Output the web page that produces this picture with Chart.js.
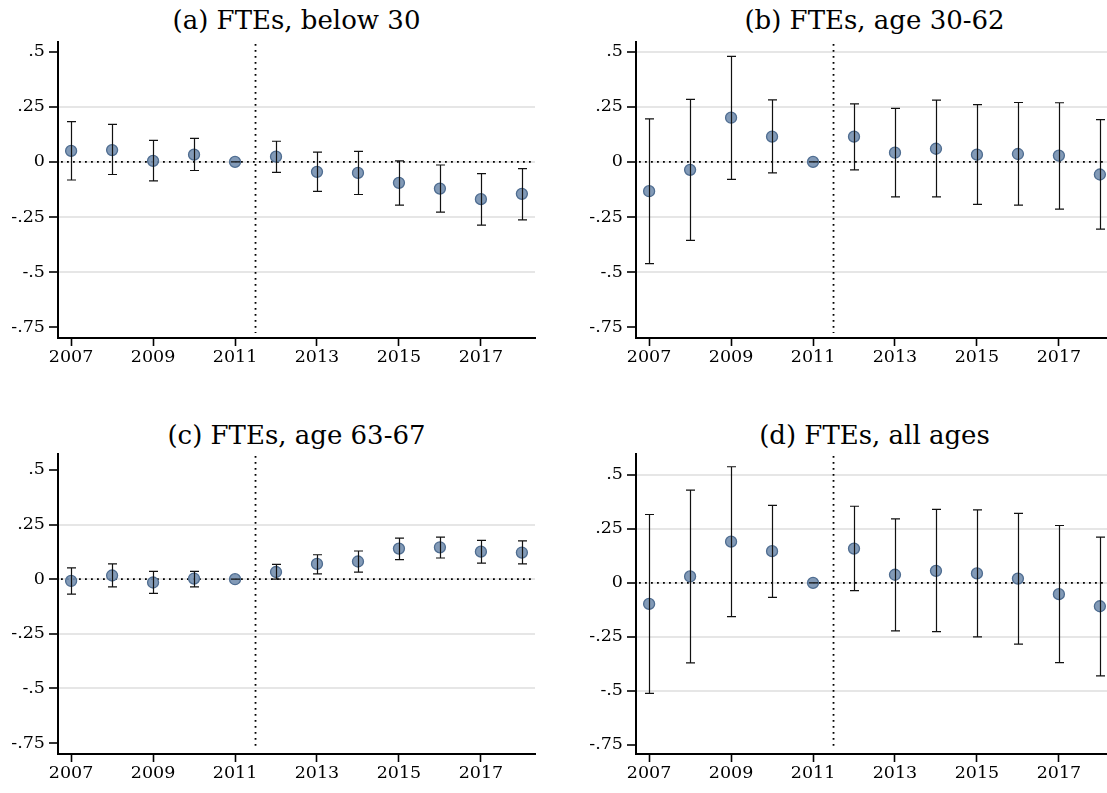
<!DOCTYPE html>
<html>
<head>
<meta charset="utf-8">
<script src="https://cdn.jsdelivr.net/npm/chart.js@4.4.1/dist/chart.umd.min.js"></script>
<style>
  html, body { margin: 0; padding: 0; background: #fff; width: 1107px; height: 793px; overflow: hidden; }
  .panel { position: absolute; }
  .title { position: absolute; width: 477px; text-align: center; font-family: "DejaVu Serif", serif; font-size: 26px; line-height: 30px; color: #000; white-space: nowrap; }
</style>
</head>
<body>
<div class="title" style="left:58px; top:5px;">(a) FTEs, below 30</div>
<div class="title" style="left:636px; top:5px;">(b) FTEs, age 30-62</div>
<div class="title" style="left:58px; top:420px;">(c) FTEs, age 63-67</div>
<div class="title" style="left:636px; top:420px;">(d) FTEs, all ages</div>
<canvas id="chartA" class="panel" width="545" height="400" style="left:0px; top:0px;"></canvas>
<canvas id="chartB" class="panel" width="545" height="400" style="left:578px; top:0px;"></canvas>
<canvas id="chartC" class="panel" width="545" height="381" style="left:0px; top:412px;"></canvas>
<canvas id="chartD" class="panel" width="545" height="381" style="left:578px; top:412px;"></canvas>
<script>
var years = [2007, 2008, 2009, 2010, 2011, 2012, 2013, 2014, 2015, 2016, 2017, 2018];
var xTicks = [2007, 2009, 2011, 2013, 2015, 2017];
var yTicks = [-0.75, -0.5, -0.25, 0, 0.25, 0.5];
var yTickLabels = ['-.75', '-.5', '-.25', '0', '.25', '.5'];
var reformLine = 2011.5;

// (a) below 30
var estA = [0.050, 0.054, 0.005, 0.033, 0, 0.024, -0.045, -0.050, -0.095, -0.121, -0.169, -0.145];
var loA = [-0.082, -0.057, -0.086, -0.039, 0, -0.047, -0.134, -0.148, -0.196, -0.228, -0.287, -0.263];
var hiA = [0.183, 0.171, 0.098, 0.107, 0, 0.094, 0.045, 0.048, 0.005, -0.014, -0.053, -0.030];

// (b) age 30-62
var estB = [-0.133, -0.036, 0.201, 0.115, 0, 0.115, 0.042, 0.060, 0.033, 0.036, 0.029, -0.057];
var loB = [-0.462, -0.356, -0.079, -0.050, 0, -0.036, -0.159, -0.159, -0.193, -0.196, -0.214, -0.305];
var hiB = [0.196, 0.284, 0.480, 0.282, 0, 0.264, 0.243, 0.281, 0.260, 0.270, 0.269, 0.192];

// (c) age 63-67
var estC = [-0.008, 0.017, -0.015, 0.003, 0, 0.033, 0.070, 0.081, 0.140, 0.146, 0.126, 0.122];
var loC = [-0.068, -0.035, -0.065, -0.035, 0, 0.000, 0.024, 0.032, 0.090, 0.097, 0.074, 0.070];
var hiC = [0.052, 0.070, 0.036, 0.036, 0, 0.068, 0.112, 0.129, 0.188, 0.193, 0.178, 0.175];

// (d) all ages
var estD = [-0.097, 0.030, 0.191, 0.147, 0, 0.159, 0.038, 0.056, 0.044, 0.020, -0.052, -0.108];
var loD = [-0.511, -0.370, -0.156, -0.067, 0, -0.036, -0.222, -0.225, -0.250, -0.283, -0.369, -0.430];
var hiD = [0.317, 0.430, 0.538, 0.359, 0, 0.355, 0.297, 0.341, 0.338, 0.322, 0.266, 0.212];

var tickFont = { family: 'DejaVu Serif', size: 17.5 };

function makePanel(id, est, lo, hi, yMin, yMax, gridAtTop, padBottom) {
    var refLines = {
        id: 'refLines',
        beforeDatasetsDraw: function (chart) {
            var ctx = chart.ctx, xs = chart.scales.x, ys = chart.scales.y, area = chart.chartArea;
            ctx.save();
            ctx.strokeStyle = '#000';
            ctx.lineWidth = 1.8;
            ctx.setLineDash([1.8, 4.2]);
            var y0 = ys.getPixelForValue(0);
            ctx.beginPath();
            ctx.moveTo(area.left + 3, y0);
            ctx.lineTo(area.right, y0);
            ctx.stroke();
            var xr = xs.getPixelForValue(reformLine);
            ctx.beginPath();
            ctx.moveTo(xr, area.top + 2);
            ctx.lineTo(xr, area.bottom - 5);
            ctx.stroke();
            ctx.restore();
        },
        afterDatasetsDraw: function (chart) {
            var ctx = chart.ctx, xs = chart.scales.x, ys = chart.scales.y;
            ctx.save();
            ctx.strokeStyle = '#111';
            ctx.lineWidth = 1.2;
            for (var i = 0; i < years.length; i++) {
                var x = Math.round(xs.getPixelForValue(years[i])) + 0.5;
                var yl = ys.getPixelForValue(lo[i]);
                var yh = ys.getPixelForValue(hi[i]);
                ctx.beginPath();
                ctx.moveTo(x, yl);
                ctx.lineTo(x, yh);
                ctx.moveTo(x - 4.5, yl);
                ctx.lineTo(x + 4.5, yl);
                ctx.moveTo(x - 4.5, yh);
                ctx.lineTo(x + 4.5, yh);
                ctx.stroke();
            }
            ctx.restore();
        }
    };

    return new Chart(document.getElementById(id), {
        type: 'scatter',
        data: {
            datasets: [{
                data: years.map(function (yr, i) { return { x: yr, y: est[i] }; }),
                pointRadius: 5.5,
                pointBackgroundColor: 'rgba(116,143,175,0.9)',
                pointBorderColor: '#4f6d91',
                pointBorderWidth: 1.3,
                showLine: false
            }]
        },
        options: {
            responsive: false,
            animation: false,
            events: [],
            layout: { padding: { top: 42, left: 0, right: 10, bottom: padBottom } },
            plugins: { legend: { display: false }, tooltip: { enabled: false } },
            scales: {
                x: {
                    type: 'linear',
                    min: 2006.68,
                    max: 2018.32,
                    afterBuildTicks: function (axis) {
                        axis.ticks = xTicks.map(function (v) { return { value: v }; });
                    },
                    afterFit: function (axis) { axis.height = 38; },
                    ticks: {
                        font: tickFont,
                        color: '#000',
                        padding: 1,
                        maxRotation: 0,
                        autoSkip: false,
                        callback: function (v) { return String(v); }
                    },
                    grid: { drawOnChartArea: false, tickLength: 8, tickColor: '#000', tickWidth: 1.6 },
                    border: { color: '#000', width: 2 }
                },
                y: {
                    min: yMin,
                    max: yMax,
                    afterBuildTicks: function (axis) {
                        axis.ticks = yTicks.map(function (v) { return { value: v }; });
                    },
                    afterFit: function (axis) { axis.width = 58; },
                    ticks: {
                        font: tickFont,
                        color: '#000',
                        padding: 4,
                        autoSkip: false,
                        callback: function (v) { return yTickLabels[yTicks.indexOf(v)]; }
                    },
                    grid: {
                        lineWidth: 2,
                        color: function (c) {
                            if (c.tick.value === -0.75) return 'rgba(0,0,0,0)';
                            if (c.tick.value === 0.5 && !gridAtTop) return 'rgba(0,0,0,0)';
                            return '#e6e6e6';
                        },
                        tickLength: 9,
                        tickColor: '#000',
                        tickWidth: 1.6
                    },
                    border: { color: '#000', width: 2 }
                }
            }
        },
        plugins: [refLines]
    });
}

makePanel('chartA', estA, loA, hiA, -0.8, 0.545, false, 24);
makePanel('chartB', estB, loB, hiB, -0.8, 0.545, true, 24);
makePanel('chartC', estC, loC, hiC, -0.8, 0.573, false, 1);
makePanel('chartD', estD, loD, hiD, -0.792, 0.597, true, 1);
</script>
</body>
</html>
